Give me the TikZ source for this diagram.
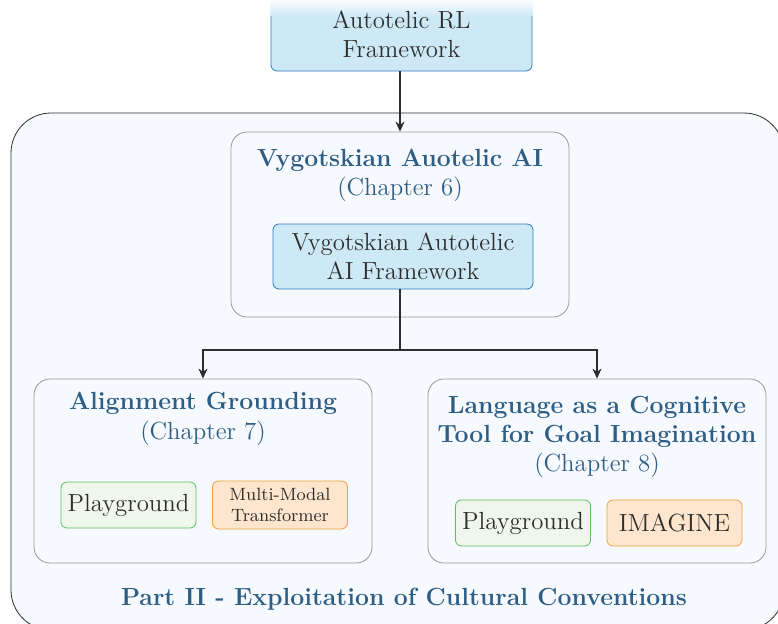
\documentclass[tikz,border=0pt]{standalone}
\usepackage{tikz}
\usetikzlibrary{arrows.meta}
\definecolor{PartBlue}{HTML}{2E5E85}
\definecolor{FrameFill}{HTML}{F6F9FD}
\definecolor{FrameLine}{HTML}{2E2E2E}
\definecolor{GroupLine}{HTML}{999999}
\definecolor{CoreFill}{HTML}{CDE9F6}
\definecolor{CoreLine}{HTML}{2B7BC0}
\definecolor{EnvFill}{HTML}{EFF6EC}
\definecolor{EnvLine}{HTML}{5DBE5D}
\definecolor{ModelFill}{HTML}{FDE6CD}
\definecolor{ModelLine}{HTML}{F3A03F}
\definecolor{TextGray}{HTML}{2E2E2E}
\newcommand{\boxfont}{\fontsize{12.4}{14.5}\selectfont}

\tikzset{
  core/.style={draw=CoreLine,fill=CoreFill,rounded corners=3pt,align=center,
    text=TextGray,font=\boxfont,inner sep=0pt,minimum width=130pt,minimum height=32.5pt},
  group/.style={draw=GroupLine,fill=FrameFill,rounded corners=8pt,
    minimum width=169pt,inner sep=0pt},
  env/.style={draw=EnvLine,fill=EnvFill,rounded corners=3pt,text=TextGray,
    font=\boxfont,inner sep=0pt,minimum width=67.5pt,minimum height=23pt,align=center},
  model/.style={env,draw=ModelLine,fill=ModelFill},
  title/.style={font=\boxfont\bfseries,text=PartBlue,align=center},
  chapter/.style={font=\boxfont,text=PartBlue},
}

\begin{document}
\begin{tikzpicture}[x=0.5pt,y=0.5pt,>={Stealth[length=5pt,width=4.5pt]}]
\useasboundingbox (0,0) rectangle (778,623);
% outer frame, cut by the page
\draw[FrameLine,fill=FrameFill,rounded corners=20pt] (11,-7) rectangle (784,510);
\node[title] (part) at (404,24) {Part II - Exploitation of Cultural Conventions};

% top framework, faded at the page edge
\node[core,minimum width=130.5pt,minimum height=37pt] (rl) at (401.5,589) {};
\shade[top color=white,bottom color=CoreFill] (270.5,607) rectangle (532.5,624);
\node[align=center,text=TextGray,font=\boxfont] (rltext) at (rl) {Autotelic RL\\Framework};

% chapter 6
\node[group,minimum height=92.5pt] (vyg) at (400,398.5) {};
\node[title] (vygtitle) at (400,463) {Vygotskian Auotelic AI};
\node[chapter] (vygchap) at (400,434) {(Chapter 6)};
\node[core] (vygcore) at (403,366.5) {Vygotskian Autotelic\\AI Framework};

% chapter 7
\node[group,minimum height=92pt] (align) at (203,152) {};
\node[title] (aligntitle) at (203,220) {Alignment Grounding};
\node[chapter] (alignchap) at (203,190) {(Chapter 7)};
\node[env] (pg7) at (128.5,118) {Playground};
\node[model,minimum height=24pt,font=\fontsize{8.9}{10.5}\selectfont] (mmt) at (280,118)
  {Multi-Modal\\Transformer};

% chapter 8
\node[group,minimum height=92pt] (lang) at (597,152) {};
\node[title] (langtitle) at (597,201.5) {Language as a Cognitive\\Tool for Goal Imagination};
\node[chapter] (langchap) at (597,158) {(Chapter 8)};
\node[env] (pg8) at (523,100) {Playground};
\node[model] (imagine) at (674.5,100) {IMAGINE};

% connectors
\coordinate (split) at (400,273);
\draw[->,semithick,FrameLine] (rl.south -| vyg.north) -- (vyg.north);
\draw[semithick,FrameLine] (vygcore.south -| split) -- (split);
\draw[->,semithick,FrameLine] (split) -| (align.north);
\draw[->,semithick,FrameLine] (split) -| (lang.north);
\end{tikzpicture}
\end{document}
